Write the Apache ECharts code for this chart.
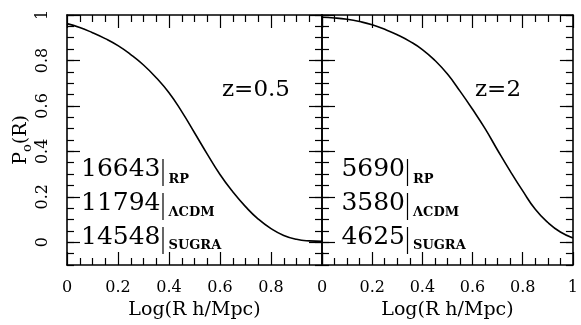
<!DOCTYPE html>
<html>
<head>
<meta charset="utf-8">
<script src="https://cdn.jsdelivr.net/npm/echarts@6/dist/echarts.min.js"></script>
<style>
html,body{margin:0;padding:0;background:#fff;}
#c{width:581px;height:325px;}
</style>
</head>
<body>
<div id="c"></div>
<script>
// ---- data ----
const xLeft  = [0, 0.05, 0.1, 0.15, 0.2, 0.25, 0.3, 0.35, 0.4, 0.45, 0.5, 0.55, 0.6, 0.65, 0.7, 0.75, 0.8, 0.85, 0.9, 0.95, 1];
const yLeft  = [0.962, 0.945, 0.922, 0.896, 0.865, 0.826, 0.780, 0.724, 0.658, 0.575, 0.482, 0.388, 0.298, 0.222, 0.157, 0.102, 0.060, 0.030, 0.013, 0.006, 0.004];
const xRight = [0, 0.05, 0.1, 0.15, 0.2, 0.25, 0.3, 0.35, 0.4, 0.45, 0.5, 0.55, 0.6, 0.65, 0.7, 0.75, 0.8, 0.85, 0.9, 0.95, 1];
const yRight = [0.99, 0.987, 0.981, 0.971, 0.957, 0.937, 0.913, 0.884, 0.848, 0.800, 0.74, 0.665, 0.585, 0.50, 0.405, 0.313, 0.226, 0.145, 0.087, 0.045, 0.019];
const yMajorTicks = [0, 0.2, 0.4, 0.6, 0.8, 1];
const panelTitles = ['z=0.5', 'z=2'];
const models = ['RP', 'ΛCDM', 'SUGRA'];
const countsLeft = ['16643', '11794', '14548'];
const countsRight = ['5690', '3580', '4625'];
const xName = 'Log(R h/Mpc)';

// ---- styles ----
const FONT = 'DejaVu Serif';
const black = '#000';
const tickStyle = () => ({color: black, width: 1.2});
const frameStyle = () => ({color: black, width: 1.6});

function xAxesFor(g, showMaxLabel) {
  return [
    { type: 'value', gridIndex: g, position: 'bottom', min: 0, max: 1, interval: 0.2,
      axisLine: {show: true, onZero: false, lineStyle: frameStyle()},
      axisTick: {show: true, inside: true, length: 13, lineStyle: tickStyle()},
      minorTick: {show: true, splitNumber: 4, length: 7, lineStyle: tickStyle()},
      axisLabel: {show: true, color: black, fontFamily: FONT, fontSize: 16, margin: 15,
                  showMaxLabel: showMaxLabel, showMinLabel: true},
      splitLine: {show: false},
      name: xName, nameLocation: 'middle', nameGap: 36,
      nameTextStyle: {color: black, fontFamily: FONT, fontSize: 19} },
    { type: 'value', gridIndex: g, position: 'top', min: 0, max: 1, interval: 0.2,
      axisLine: {show: true, onZero: false, lineStyle: frameStyle()},
      axisTick: {show: true, inside: true, length: 13, lineStyle: tickStyle()},
      minorTick: {show: true, splitNumber: 4, length: 7, lineStyle: tickStyle()},
      axisLabel: {show: false}, splitLine: {show: false} }
  ];
}
function yAxesFor(g, pos, showLabel, withName) {
  const major = { type: 'value', gridIndex: g, position: pos, min: -0.1, max: 1,
      axisLine: {show: true, onZero: false, lineStyle: frameStyle()},
      axisTick: {show: true, inside: true, length: 13, lineStyle: tickStyle(), customValues: yMajorTicks},
      axisLabel: {show: showLabel, customValues: yMajorTicks, rotate: 90, color: black,
                  fontFamily: FONT, fontSize: 16, margin: 16},
      splitLine: {show: false} };
  if (withName) {
    major.name = '{a|P}{b|o}{a|(R)}';
    major.nameLocation = 'middle';
    major.nameGap = 35;
    major.nameRotate = 90;
    major.nameTextStyle = {color: black, fontFamily: FONT,
      rich: {a: {fontFamily: FONT, fontSize: 19, color: black, lineHeight: 22, verticalAlign: 'bottom'},
             b: {fontFamily: FONT, fontSize: 13, color: black, lineHeight: 14, verticalAlign: 'bottom', padding: [0, 0, -4, 0]}}};
  }
  const minor = { type: 'value', gridIndex: g, position: pos, min: -0.1, max: 1, interval: 0.05,
      axisLine: {show: false, onZero: false},
      axisTick: {show: true, inside: true, length: 7, lineStyle: tickStyle()},
      axisLabel: {show: false}, splitLine: {show: false} };
  return [major, minor];
}

const xAxis = [].concat(xAxesFor(0, false), xAxesFor(1, true));
// x indices: 0 bottom L, 1 top L, 2 bottom R, 3 top R
const yAxis = [].concat(
  yAxesFor(0, 'left', true, true),    // 0,1
  yAxesFor(0, 'right', false, false), // 2,3
  yAxesFor(1, 'left', false, false),  // 4,5
  yAxesFor(1, 'right', false, false)  // 6,7
);

const pairs = (xs, ys) => xs.map((x, i) => [x, ys[i]]);

// annotation texts
const graphics = [];
function addLabels(nums, xBar) {
  const numBase = [178, 212, 246];
  const subBase = [185, 218, 251];
  nums.forEach((n, i) => {
    graphics.push({type: 'text', x: xBar - 2.5, y: numBase[i] - 9,
      style: {text: n, fontFamily: FONT, fontSize: 25, fill: black, align: 'right', verticalAlign: 'middle'}});
    graphics.push({type: 'line', shape: {x1: xBar, y1: numBase[i] - 19, x2: xBar, y2: numBase[i] + 8},
      style: {stroke: black, lineWidth: 1.2}});
    graphics.push({type: 'text', x: xBar + 5.5, y: subBase[i] - 5,
      style: {text: models[i], fontFamily: FONT, fontSize: 13, fontWeight: 'bold', fill: black, align: 'left', verticalAlign: 'middle'}});
  });
}
addLabels(countsLeft, 163);
addLabels(countsRight, 407.5);
graphics.push({type: 'text', x: 222, y: 90,
  style: {text: panelTitles[0], fontFamily: FONT, fontSize: 23, fill: black, align: 'left', verticalAlign: 'middle'}});
graphics.push({type: 'text', x: 475, y: 90,
  style: {text: panelTitles[1], fontFamily: FONT, fontSize: 23, fill: black, align: 'left', verticalAlign: 'middle'}});

const chart = echarts.init(document.getElementById('c'), null, {renderer: 'canvas'});
chart.setOption({
  animation: false,
  backgroundColor: '#fff',
  textStyle: {fontFamily: FONT},
  grid: [
    {left: 67, top: 15, width: 255, height: 254},
    {left: 322, top: 15, width: 255, height: 254}
  ],
  xAxis: xAxis,
  yAxis: yAxis,
  series: [
    {type: 'line', xAxisIndex: 0, yAxisIndex: 0, data: pairs(xLeft, yLeft), smooth: true,
     showSymbol: false, lineStyle: {color: black, width: 1.6}},
    {type: 'line', xAxisIndex: 2, yAxisIndex: 4, data: pairs(xRight, yRight), smooth: true,
     showSymbol: false, lineStyle: {color: black, width: 1.6}}
  ],
  graphic: graphics
});
</script>
</body>
</html>
